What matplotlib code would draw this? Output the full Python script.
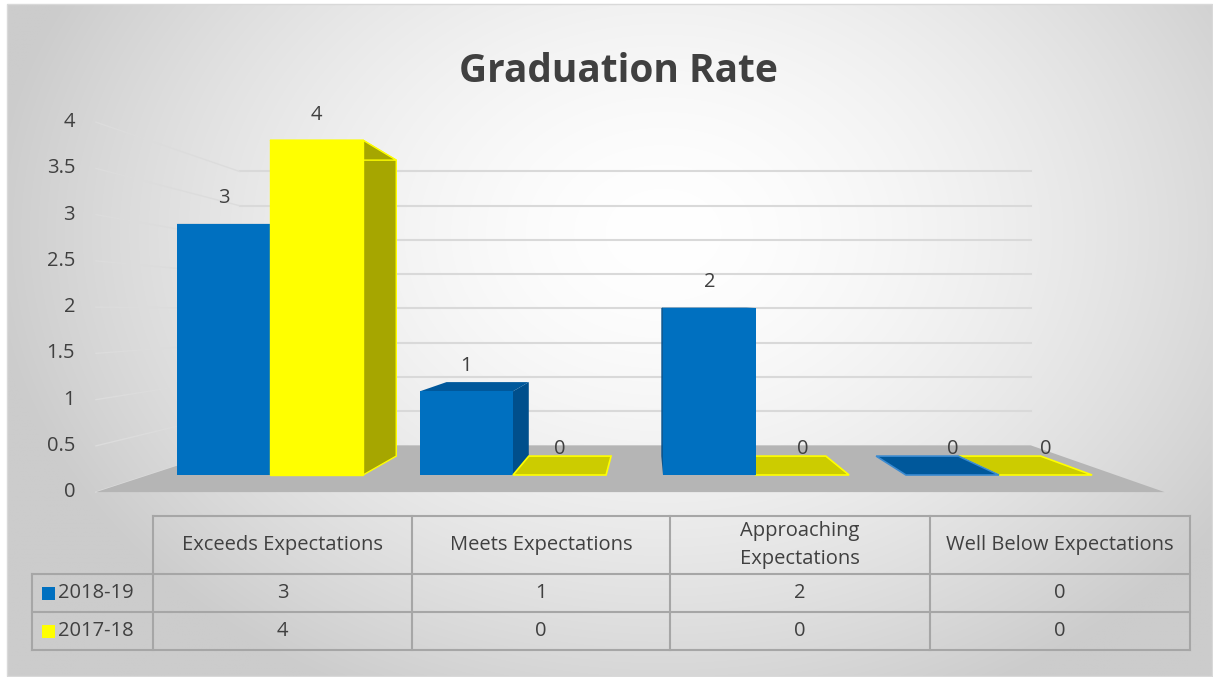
import numpy as np
import matplotlib.pyplot as plt
from matplotlib.patches import Polygon, Rectangle

# ---------------- data ----------------
categories = ["Exceeds Expectations", "Meets Expectations",
              "Approaching\nExpectations", "Well Below Expectations"]
series_names = ["2018-19", "2017-18"]
values_2018_19 = [3, 1, 2, 0]
values_2017_18 = [4, 0, 0, 0]
y_ticks = [0, 0.5, 1, 1.5, 2, 2.5, 3, 3.5, 4]
title_text = "Graduation Rate"

series_values = [values_2018_19, values_2017_18]
front_colors = ["#0070C0", "#FFFF00"]
top_colors = ["#00589B", "#CCCC00"]
side_colors = ["#004F8C", "#A6A600"]
edge_colors = ["#2A86D0", "#FFFF00"]

plt.rcParams['font.family'] = ['Open Sans', 'DejaVu Sans']
TXT = "#404040"
FS = 14.5

W, H = 1213, 677
fig = plt.figure(figsize=(W / 100, H / 100), dpi=100)

# ---------------- background gradient ----------------
bg = fig.add_axes([0, 0, 1, 1])
bg.set_xlim(0, W)
bg.set_ylim(H, 0)
bg.axis('off')
yy, xx = np.mgrid[0:H, 0:W]
r = np.sqrt(((xx - 660) / 680.0) ** 2 + ((yy - 230) / 520.0) ** 2)
c = 1.0 - 0.20 * np.clip(r, 0, 1) ** 1.6
img = np.dstack([c, c, c])
bg.imshow(img, extent=(7, W, H, 4), aspect='auto', interpolation='bilinear')
bg.add_patch(Rectangle((7, 4), W - 8, H - 5, fill=False, ec="#D9D9D9", lw=1))

# ---------------- main (front-plane data coords) ----------------
ax = fig.add_axes([0, 0, 1, 1])
ax.patch.set_alpha(0)
ax.axis('off')
x_px0, x_px_unit = 270.0, 243.0
y_px0, y_px_unit = 475.0, 83.7
ax.set_xlim(-x_px0 / x_px_unit, (W - x_px0) / x_px_unit)
ax.set_ylim((y_px0 - H) / y_px_unit, y_px0 / y_px_unit)

Vx, Vy = 1.56, 1.947           # vanishing point
K_FLOOR_FRONT, K_BAR_FRONT, K_BAR_BACK, K_WALL = 1.105, 1.0, 0.884, 0.818
X_LEFT, X_RIGHT = -0.5, 3.48
BW = 0.383


def proj(x, y, k):
    return (Vx + (x - Vx) * k, Vy + (y - Vy) * k)


# floor
floor = [proj(X_LEFT, 0, K_FLOOR_FRONT), proj(X_RIGHT, 0, K_FLOOR_FRONT),
         proj(X_RIGHT, 0, K_WALL), proj(X_LEFT, 0, K_WALL)]
ax.add_patch(Polygon(floor, closed=True, fc="#B5B5B5", ec="none", zorder=1))

# gridlines: back wall and side wall
for v in y_ticks:
    a = proj(X_LEFT, v, K_WALL)
    b = proj(X_RIGHT, v, K_WALL)
    f = proj(X_LEFT, v, K_FLOOR_FRONT)
    if v > 0:
        ax.plot([a[0], b[0]], [a[1], b[1]], color="#D9D9D9", lw=1.5, zorder=0.5)
    ax.plot([f[0], a[0]], [f[1], a[1]], color="#DCDCDC", lw=1.0, zorder=0.5)
    ax.annotate(f"{v:g}", xy=f, xytext=(-15, 0), textcoords='offset points',
                ha='right', va='center', fontsize=FS, color=TXT)

# bars (painter's order: farther from vanishing x first)
boxes = []
for j, vals in enumerate(series_values):
    for i, v in enumerate(vals):
        x0 = i - BW + j * BW
        boxes.append((abs(x0 + BW / 2 - Vx), i, j, x0, v))
boxes.sort(key=lambda b: -b[0])

for n, (_, i, j, x0, v) in enumerate(boxes):
    x1 = x0 + BW
    z = 2 + n * 0.1
    kb = K_BAR_BACK
    top = [proj(x0, v, 1), proj(x1, v, 1), proj(x1, v, kb), proj(x0, v, kb)]
    right = [proj(x1, 0, 1), proj(x1, v, 1), proj(x1, v, kb), proj(x1, 0, kb)]
    left = [proj(x0, 0, 1), proj(x0, v, 1), proj(x0, v, kb), proj(x0, 0, kb)]
    if v > 0:
        if x1 < Vx:
            ax.add_patch(Polygon(right, closed=True, fc=side_colors[j],
                                 ec=edge_colors[j] if j == 1 else "none", lw=1, zorder=z))
        if x0 > Vx:
            ax.add_patch(Polygon(left, closed=True, fc=side_colors[j], ec="none", zorder=z))
        ax.add_patch(Polygon(top, closed=True, fc=side_colors[j] if j == 1 else top_colors[j],
                             ec=edge_colors[j] if j == 1 else "none", lw=1, zorder=z + 0.01))
        ax.bar(x0, v, width=BW, align='edge', color=front_colors[j],
               edgecolor=edge_colors[j] if j == 1 else "none", lw=1, zorder=z + 0.02)
    else:
        ax.add_patch(Polygon(top, closed=True, fc=top_colors[j],
                             ec=edge_colors[j] if j == 1 else "#3A8AD0", lw=1.2, zorder=z))
    ax.annotate(f"{v:g}", xy=(x0 + BW / 2, v), xytext=(0, 18.5), textcoords='offset points',
                ha='center', va='center', fontsize=FS, color=TXT, zorder=20)

# title
fig.text(618 / W, 1 - 72 / H, title_text, ha='center', va='center',
         fontsize=28, fontweight='bold', color=TXT)

# ---------------- data table ----------------
tx = fig.add_axes([0, 0, 1, 1])
tx.patch.set_alpha(0)
tx.axis('off')
tx.set_xlim(0, W)
tx.set_ylim(H, 0)
LC = "#A6A6A6"
col_edges = [153, 412, 670, 930, 1190]
row_edges = [516, 574, 612, 650]
lbl_left = 32
tx.plot([col_edges[0], col_edges[-1]], [row_edges[0]] * 2, color=LC, lw=1.5)
for yv in row_edges[1:]:
    tx.plot([lbl_left, col_edges[-1]], [yv] * 2, color=LC, lw=1.5)
tx.plot([lbl_left] * 2, [row_edges[1], row_edges[-1]], color=LC, lw=1.5)
for xv in col_edges:
    tx.plot([xv] * 2, [row_edges[0], row_edges[-1]], color=LC, lw=1.5)

for ci, cat in enumerate(categories):
    cx = (col_edges[ci] + col_edges[ci + 1]) / 2
    tx.text(cx, (row_edges[0] + row_edges[1]) / 2, cat, ha='center', va='center',
            fontsize=FS, color=TXT, linespacing=1.55)
    for ri, vals in enumerate(series_values):
        cy = (row_edges[ri + 1] + row_edges[ri + 2]) / 2
        tx.text(cx, cy, f"{vals[ci]:g}", ha='center', va='center', fontsize=FS, color=TXT)

for ri, name in enumerate(series_names):
    cy = (row_edges[ri + 1] + row_edges[ri + 2]) / 2
    tx.add_patch(Rectangle((42, cy - 6.5), 13, 13, fc=front_colors[ri], ec="none"))
    tx.text(58, cy, name, ha='left', va='center', fontsize=FS, color=TXT)

fig.savefig("out.png", dpi=100)
